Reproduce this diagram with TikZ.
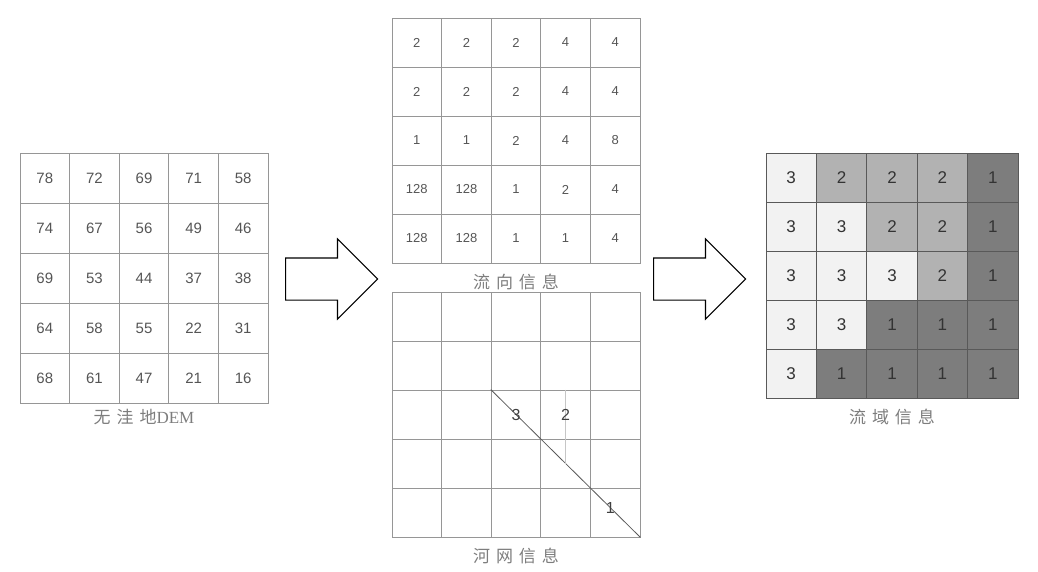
\documentclass[tikz,border=0pt]{standalone}
\usepackage{fontspec}
\newfontfamily\numfont{Liberation Sans}
\newfontfamily\cjkfont[LetterSpace=35]{Noto Sans CJK SC}
\newfontfamily\latinfont{Liberation Serif}
\definecolor{gridline}{RGB}{150, 150, 150}
\definecolor{numtext}{RGB}{85, 85, 85}
\definecolor{captext}{RGB}{125, 125, 125}
\definecolor{basin1}{RGB}{125, 125, 125}
\definecolor{basin2}{RGB}{178, 178, 178}
\definecolor{basin3}{RGB}{242, 242, 242}
\usetikzlibrary{shapes.arrows, positioning}

\begin{document}
\begin{tikzpicture}[
        x=1pt, y=-1pt,
        cell/.style={draw=gridline, line width=0.8pt, minimum width=49.6pt,
                     minimum height=49pt, inner sep=0pt, text=numtext},
        basincell/.style={draw=black!65, line width=0.8pt, minimum width=50.4pt,
                     minimum height=49pt, inner sep=0pt, text=black!80,
                     font=\numfont\fontsize{17}{20}\selectfont},
        netnum/.style={text=black!75, font=\numfont\fontsize{16}{19}\selectfont},
        caption/.style={font=\cjkfont\fontsize{17}{20}\selectfont, text=captext, inner sep=2pt},
        blockarrow/.style={draw, line width=1.1pt, fill=white, single arrow,
                     single arrow head extend=19pt, inner xsep=0pt, inner ysep=20.5pt,
                     minimum height=92pt, anchor=tail}
    ]
        \useasboundingbox (0,0) rectangle (1038,572);

        % DEM without depressions
        \foreach \row [count=\r] in {{78,72,69,71,58},{74,67,56,49,46},{69,53,44,37,38},{64,58,55,22,31},{68,61,47,21,16}}
            \foreach \v [count=\c] in \row
                \node[cell, minimum height=50pt, font=\numfont\fontsize{15}{18}\selectfont]
                    (dem-\r-\c) at ({20+(\c-0.5)*49.6},{153+(\r-0.5)*50}) {\v};
        \node[caption, below=4pt of dem-5-3] (demlabel) {无洼地{\latinfont DEM}};

        % Flow direction
        \foreach \row [count=\r] in {{2,2,2,4,4},{2,2,2,4,4},{1,1,2,4,8},{128,128,1,2,4},{128,128,1,1,4}}
            \foreach \v [count=\c] in \row
                \node[cell, font=\numfont\fontsize{13}{16}\selectfont]
                    (flow-\r-\c) at ({392+(\c-0.5)*49.6},{18+(\r-0.5)*49}) {\v};
        \node[caption, below=8pt of flow-5-3] (flowlabel) {流向信息};

        % Stream network
        \foreach \r in {1,...,5}
            \foreach \c in {1,...,5}
                \node[cell] (net-\r-\c) at ({392+(\c-0.5)*49.6},{292+(\r-0.5)*49}) {};
        \draw[black!65, line width=0.8pt] (net-3-3.north west) -- (net-5-5.south east);
        \draw[gray!45, line width=0.7pt] (net-3-4.north) -- (net-4-4.center);
        \node[netnum] (order3) at (net-3-3) {3};
        \node[netnum] (order2) at (net-3-4) {2};
        \node[netnum] (order1) at ([shift={(-5pt,5pt)}]net-5-5) {1};
        \node[caption, below=8pt of net-5-3] (netlabel) {河网信息};

        % Watersheds
        \foreach \row [count=\r] in {{3,2,2,2,1},{3,3,2,2,1},{3,3,3,2,1},{3,3,1,1,1},{3,1,1,1,1}}
            \foreach \v [count=\c] in \row
                \node[basincell, fill=basin\v]
                    (basin-\r-\c) at ({766+(\c-0.5)*50.4},{153+(\r-0.5)*49}) {\v};
        \node[caption, below=8pt of basin-5-3] (basinlabel) {流域信息};

        % Arrows
        \node[blockarrow] (arrowA) at (285,279) {};
        \node[blockarrow] (arrowB) at (653,279) {};
    \end{tikzpicture}
\end{document}
